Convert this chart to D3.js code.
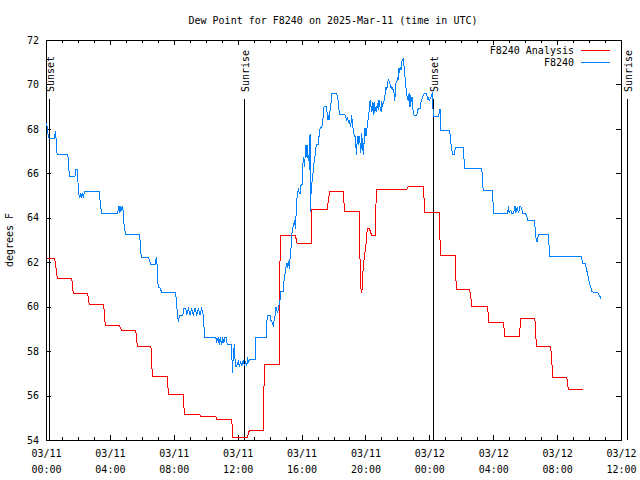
<!DOCTYPE html>
<html><head><meta charset="utf-8">
<script src="https://cdn.jsdelivr.net/npm/d3@7"></script>
<style>
body{margin:0;background:#fff}
svg{display:block}
text{font-family:"DejaVu Sans Mono","Liberation Mono",monospace;font-size:10px;fill:#000}
</style>
</head><body>
<svg id="chart" width="640" height="480"></svg>
<script>
const chartTitle = "Dew Point for F8240 on 2025-Mar-11 (time in UTC)";
const yAxisLabel = "degrees F";
const xTickHours = [0, 4, 8, 12, 16, 20, 24, 28, 32, 36];
const xTickDates = ["03/11","03/11","03/11","03/11","03/11","03/11","03/12","03/12","03/12","03/12"];
const xTickTimes = ["00:00","04:00","08:00","12:00","16:00","20:00","00:00","04:00","08:00","12:00"];
const yTicks = [54, 56, 58, 60, 62, 64, 66, 68, 70, 72];
const sunLabels = ["Sunset", "Sunrise", "Sunset", "Sunrise"];
const sunHours = [0.21, 12.37, 24.25, 36.36];
const seriesNames = ["F8240 Analysis", "F8240"];
const seriesColors = ["#ff0000", "#0080ff"];

// [hours since 03/11 00:00 UTC, dew point °F]
const analysisSeries = [[0.04,62.18],[0.54,62.18],[0.58,61.98],[0.67,61.5],[0.71,61.27],[1.61,61.27],[1.71,60.6],[2.61,60.6],[2.71,60.1],[3.61,60.1],[3.71,59.16],[4.59,59.16],[4.72,58.95],[5.62,58.95],[5.72,58.22],[6.57,58.22],[6.66,56.88],[7.60,56.88],[7.66,56.07],[8.60,56.07],[8.66,55.13],[9.64,55.13],[9.67,55.06],[10.63,55.06],[10.69,54.94],[11.63,54.94],[11.69,54.12],[12.60,54.12],[12.73,54.43],[13.61,54.43],[13.63,55.93],[13.69,57.4],[14.61,57.4],[14.63,60.69],[14.67,63.21],[15.61,63.21],[15.72,62.85],[16.61,62.85],[16.64,64.38],[17.61,64.38],[17.70,64.9],[17.78,65.19],[18.62,65.19],[18.66,64.65],[18.72,64.27],[19.62,64.27],[19.63,63.0],[19.71,60.83],[19.77,60.63],[19.81,61.0],[19.87,61.95],[19.93,62.18],[19.99,62.55],[20.04,62.85],[20.12,63.53],[20.24,63.53],[20.39,63.2],[20.62,63.2],[20.68,65.28],[22.59,65.28],[22.71,65.43],[23.63,65.43],[23.71,64.24],[24.63,64.24],[24.65,63.3],[24.71,62.32],[25.63,62.32],[25.65,61.57],[25.69,60.78],[26.51,60.78],[26.57,60.6],[26.66,60.03],[27.66,60.03],[27.68,59.66],[27.72,59.3],[28.63,59.3],[28.68,59.0],[28.72,58.67],[29.64,58.67],[29.68,59.07],[29.73,59.48],[30.60,59.48],[30.64,59.17],[30.70,58.22],[31.58,58.22],[31.64,57.86],[31.70,57.15],[31.73,56.82],[32.60,56.82],[32.64,56.7],[32.70,56.28],[33.61,56.28]];

const stationSeries = [[0.04,68.25],[0.08,68.03],[0.13,67.76],[0.19,67.58],[0.54,67.58],[0.58,67.9],[0.63,67.58],[0.67,66.93],[0.73,66.87],[1.36,66.87],[1.40,66.57],[1.46,65.88],[1.82,65.88],[1.88,66.19],[1.94,66.19],[1.98,65.85],[2.05,65.1],[2.09,64.88],[2.15,65.1],[2.21,64.88],[2.27,65.13],[2.34,64.9],[2.40,65.17],[3.34,65.17],[3.42,64.5],[3.49,64.2],[4.47,64.2],[4.53,64.35],[4.57,64.53],[4.63,64.23],[4.67,64.53],[4.74,64.35],[4.80,64.53],[4.84,64.2],[4.90,63.57],[4.99,63.23],[5.84,63.23],[5.89,62.96],[5.93,62.47],[5.99,62.22],[6.41,62.22],[6.47,62.1],[6.57,61.9],[6.83,61.9],[6.87,62.1],[6.91,62.22],[6.95,61.9],[6.97,61.27],[7.03,60.9],[7.14,60.83],[7.26,60.63],[8.08,60.63],[8.14,60.45],[8.18,60.03],[8.25,59.55],[8.29,59.3],[8.35,59.6],[8.56,59.6],[8.64,59.92],[8.75,59.92],[8.81,59.63],[8.91,59.92],[9.02,59.63],[9.12,59.92],[9.22,59.63],[9.33,59.92],[9.44,59.63],[9.54,59.92],[9.64,59.63],[9.75,59.92],[9.85,59.63],[9.89,59.1],[9.94,58.62],[10.63,58.62],[10.69,58.42],[10.79,58.65],[10.85,58.27],[10.91,58.62],[11.0,58.27],[11.06,58.62],[11.13,58.35],[11.21,58.62],[11.27,58.62],[11.35,58.32],[11.58,58.32],[11.63,57.97],[11.67,57.03],[11.71,57.6],[11.79,58.32],[11.83,57.75],[11.85,57.33],[11.94,57.33],[12.04,57.52],[12.1,57.33],[12.19,57.52],[12.25,57.33],[12.35,57.6],[12.42,57.33],[12.5,57.52],[12.57,57.33],[12.63,57.63],[12.69,57.52],[12.73,57.63],[13.09,57.63],[13.13,58.62],[13.79,58.62],[13.82,59.33],[13.88,59.6],[14.03,59.6],[14.07,59.4],[14.13,59.33],[14.2,59.25],[14.23,59.1],[14.28,59.4],[14.34,59.6],[14.40,59.97],[14.45,59.85],[14.51,59.7],[14.55,59.97],[14.61,60.15],[14.65,60.3],[14.70,60.67],[14.86,60.67],[14.90,61.13],[14.97,61.5],[15.03,61.8],[15.07,61.95],[15.11,61.73],[15.17,62.03],[15.24,61.68],[15.28,62.18],[15.32,62.4],[15.36,62.85],[15.40,63.3],[15.49,63.67],[15.53,63.75],[15.57,63.9],[15.61,63.48],[15.63,63.75],[15.70,64.8],[15.76,65.1],[15.80,65.33],[15.86,65.1],[15.92,65.1],[15.97,65.48],[16.03,65.48],[16.07,66.15],[16.11,66.72],[16.16,66.57],[16.2,66.3],[16.24,67.2],[16.28,67.28],[16.32,66.75],[16.36,67.28],[16.41,66.6],[16.45,66.83],[16.49,66.15],[16.53,67.77],[16.55,64.27],[16.61,65.4],[16.70,65.85],[16.74,66.27],[16.8,66.57],[16.84,66.75],[16.91,67.2],[16.95,67.28],[17.05,67.28],[17.11,67.8],[17.16,68.03],[17.26,68.1],[17.33,68.18],[17.36,68.85],[17.41,69.0],[17.53,69.03],[17.58,68.85],[17.61,68.63],[17.66,68.4],[17.70,68.63],[17.74,68.4],[17.78,68.77],[17.85,69.18],[17.89,69.6],[18.2,69.6],[18.24,69.45],[18.30,69.23],[18.37,68.63],[18.72,68.63],[18.77,68.52],[18.83,68.4],[18.89,68.52],[18.93,68.25],[18.99,68.4],[19.04,68.18],[19.08,68.1],[19.14,68.63],[19.18,68.25],[19.24,67.95],[19.29,67.73],[19.35,67.65],[19.39,67.28],[19.45,66.83],[19.49,67.68],[19.54,67.28],[19.60,67.68],[19.66,67.35],[19.71,66.9],[19.77,67.8],[19.81,67.28],[19.87,66.83],[19.93,67.58],[19.97,68.03],[20.04,67.68],[20.08,67.98],[20.12,68.1],[20.18,68.55],[20.24,68.85],[20.29,69.3],[20.33,69.07],[20.39,68.77],[20.43,69.23],[20.49,68.63],[20.54,69.23],[20.58,68.73],[20.65,69.0],[20.7,68.77],[20.74,69.15],[20.81,68.85],[20.85,69.3],[20.91,69.0],[20.98,68.77],[21.02,69.23],[21.08,69.0],[21.12,69.25],[21.16,69.23],[21.23,69.53],[21.29,69.9],[21.33,69.75],[21.37,69.93],[21.43,70.23],[21.50,70.13],[21.54,70.02],[21.58,69.83],[21.62,69.93],[21.67,69.75],[21.71,69.87],[21.75,69.7],[21.79,69.6],[21.83,69.27],[21.87,69.53],[21.92,70.13],[21.96,70.05],[22.0,70.35],[22.06,70.2],[22.1,70.73],[22.15,70.5],[22.18,70.8],[22.23,70.65],[22.27,71.02],[22.34,71.1],[22.37,71.18],[22.42,70.77],[22.46,70.5],[22.5,70.13],[22.54,69.83],[22.59,69.53],[22.62,69.38],[22.69,69.3],[22.73,69.6],[22.79,69.0],[22.84,69.53],[22.87,69.23],[22.92,69.45],[22.96,69.07],[23.0,68.63],[23.21,68.58],[23.25,68.77],[23.31,68.92],[23.42,68.92],[23.46,69.15],[23.53,69.3],[23.59,69.45],[23.65,69.53],[23.69,69.6],[23.84,69.57],[23.88,69.38],[23.92,69.3],[23.96,69.45],[24.0,69.27],[24.05,69.38],[24.11,69.45],[24.15,69.57],[24.19,69.6],[24.21,69.23],[24.25,68.58],[24.56,68.58],[24.63,68.7],[24.67,68.88],[24.71,67.95],[25.25,67.95],[25.30,67.73],[25.34,67.42],[25.40,67.13],[25.44,66.85],[25.57,66.85],[25.61,67.05],[25.65,67.17],[26.13,67.17],[26.17,66.68],[26.19,66.23],[27.28,66.23],[27.32,65.85],[27.34,65.47],[27.38,65.22],[27.95,65.22],[27.99,64.65],[28.01,64.2],[28.89,64.2],[28.93,64.35],[28.95,64.53],[28.99,64.23],[29.1,64.35],[29.16,64.2],[29.26,64.2],[29.32,64.35],[29.37,64.53],[29.41,64.23],[29.47,64.35],[29.51,64.5],[29.57,64.23],[29.64,64.35],[29.68,64.53],[29.74,64.5],[29.81,64.35],[29.85,64.2],[29.99,64.2],[30.1,64.12],[30.14,63.9],[30.58,63.9],[30.62,63.57],[30.66,63.23],[30.70,62.92],[30.72,63.08],[30.76,62.92],[30.83,63.23],[31.45,63.23],[31.5,62.7],[31.52,62.25],[33.54,62.25],[33.58,61.95],[33.75,61.95],[33.79,61.83],[33.85,61.65],[33.92,61.43],[33.98,61.2],[34.06,60.98],[34.13,60.83],[34.17,60.67],[34.55,60.63],[34.63,60.53],[34.69,60.45],[34.77,60.33]];

const W = 640, H = 480;
const M = {left: 46, right: 621, top: 40, bottom: 440};
const svg = d3.select("#chart");

const x = d3.scaleLinear().domain([0, 36]).range([M.left, M.right]);
const y = d3.scaleLinear().domain([54, 72]).range([M.bottom, M.top]);

// title
svg.append("text").attr("x", 333).attr("y", 24).attr("text-anchor", "middle").text(chartTitle);
// y label
svg.append("text").attr("transform", "translate(13,240) rotate(-90)").attr("text-anchor", "middle").text(yAxisLabel);

const minorHours = d3.range(0, 37, 1).filter(h => h % 4 !== 0);

function styleAxis(g) {
  g.select(".domain").remove();
  g.selectAll("line").attr("stroke", "#000").attr("shape-rendering", "crispEdges");
}

// bottom major
const bottomAxis = svg.append("g").attr("transform", `translate(0,${M.bottom})`)
  .call(d3.axisBottom(x).tickValues(xTickHours).tickSize(-5).tickPadding(14).tickFormat(""));
styleAxis(bottomAxis);
bottomAxis.selectAll(".tick").each(function(d, i) {
  const t = d3.select(this).append("text").attr("fill", "#000").attr("text-anchor", "middle");
  t.append("tspan").attr("x", 0).attr("y", 17).text(xTickDates[i]);
  t.append("tspan").attr("x", 0).attr("y", 33).text(xTickTimes[i]);
});
styleAxis(svg.append("g").attr("transform", `translate(0,${M.bottom})`)
  .call(d3.axisBottom(x).tickValues(minorHours).tickSize(-3).tickFormat("")));
// top
styleAxis(svg.append("g").attr("transform", `translate(0,${M.top})`)
  .call(d3.axisTop(x).tickValues(xTickHours).tickSize(-5).tickFormat("")));
styleAxis(svg.append("g").attr("transform", `translate(0,${M.top})`)
  .call(d3.axisTop(x).tickValues(minorHours).tickSize(-3).tickFormat("")));
// left
const leftAxis = svg.append("g").attr("transform", `translate(${M.left},0)`)
  .call(d3.axisLeft(y).tickValues(yTicks).tickSize(-5).tickPadding(7).tickFormat(d3.format("d")));
styleAxis(leftAxis);
leftAxis.selectAll("text").attr("fill", "#000");
// right
styleAxis(svg.append("g").attr("transform", `translate(${M.right},0)`)
  .call(d3.axisRight(y).tickValues(yTicks).tickSize(-5).tickFormat("")));
svg.selectAll("g").attr("font-family", null).attr("font-size", null);

// frame
svg.append("rect").attr("x", M.left + 0.5).attr("y", M.top + 0.5)
  .attr("width", M.right - M.left).attr("height", M.bottom - M.top)
  .attr("fill", "none").attr("stroke", "#000").attr("stroke-width", 1);

// sunrise / sunset markers
sunHours.forEach((h, i) => {
  const xp = Math.round(x(h)) + 0.5;
  svg.append("line").attr("x1", xp).attr("x2", xp).attr("y1", 99).attr("y2", M.bottom)
    .attr("stroke", "#000").attr("stroke-width", 1).attr("shape-rendering", "crispEdges");
  svg.append("text").attr("transform", `translate(${xp + 4},92) rotate(-90)`)
    .attr("text-anchor", "start").text(sunLabels[i]);
});

// series
const line = d3.line().x(d => x(d[0])).y(d => y(d[1]));
[analysisSeries, stationSeries].forEach((s, i) => {
  svg.append("path").datum(s).attr("d", line).attr("fill", "none")
    .attr("stroke", seriesColors[i]).attr("stroke-width", 1)
    .attr("shape-rendering", "crispEdges");
});

// legend
seriesNames.forEach((n, i) => {
  const ly = 50 + i * 12;
  svg.append("text").attr("x", 574).attr("y", ly + 3.5).attr("text-anchor", "end").text(n);
  svg.append("line").attr("x1", 581).attr("x2", 610).attr("y1", ly + 0.5).attr("y2", ly + 0.5)
    .attr("stroke", seriesColors[i]).attr("stroke-width", 1).attr("shape-rendering", "crispEdges");
});
</script>
</body></html>
